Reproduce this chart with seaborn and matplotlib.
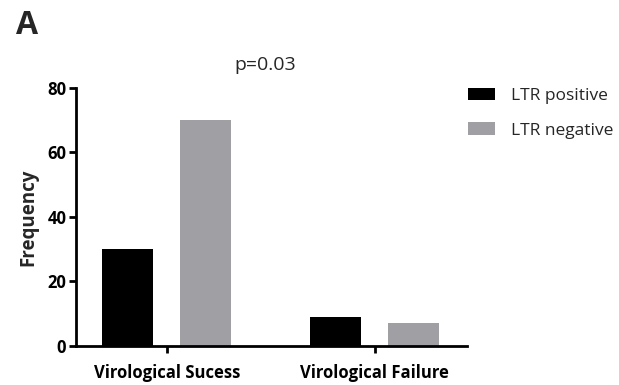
import matplotlib
matplotlib.use("Agg")
import matplotlib.pyplot as plt
import seaborn as sns
import pandas as pd

# Outcome categories and LTR status counts
categories = ["Virological Sucess", "Virological Failure"]
groups = ["LTR positive", "LTR negative"]
ltr_positive = [30, 9]
ltr_negative = [70, 7]
y_ticks = [0, 20, 40, 60, 80]

df = pd.DataFrame({
    "Outcome": categories * 2,
    "Group": [groups[0]] * 2 + [groups[1]] * 2,
    "Frequency": ltr_positive + ltr_negative,
})

sns.set_theme(style="ticks")
plt.rcParams["font.family"] = ["Open Sans", "DejaVu Sans"]

fig = plt.figure(figsize=(6.19, 3.85), dpi=100)
W, H = 619, 385
ax = fig.add_axes([76 / W, 1 - 345.7 / H, (466.7 - 76) / W, (345.7 - 88) / H])

palette = {groups[0]: "#000000", groups[1]: "#a0a0a4"}
sns.barplot(data=df, x="Outcome", y="Frequency", hue="Group", order=categories,
            hue_order=groups, palette=palette, width=0.75, gap=0.34,
            saturation=1, linewidth=0, ax=ax, legend=True)

ax.set_xlim(-0.436, 1.442)
ax.set_ylim(0, 80)
ax.set_yticks(y_ticks)
ax.set_xlabel("")
ax.set_ylabel("Frequency", fontsize=13.5, fontweight="bold", labelpad=6)

for side in ["top", "right"]:
    ax.spines[side].set_visible(False)
for side in ["left", "bottom"]:
    ax.spines[side].set_linewidth(2)
    ax.spines[side].set_color("black")
ax.tick_params(axis="both", width=2, length=5, color="black",
               labelsize=12, labelcolor="black")
for lab in ax.get_xticklabels() + ax.get_yticklabels():
    lab.set_fontweight("bold")
ax.tick_params(axis="y", pad=2)
ax.tick_params(axis="x", pad=8)

handles, labels = ax.get_legend_handles_labels()
ax.legend_.remove()
fig.legend(handles, labels, loc="upper left", bbox_to_anchor=(452 / W, 1 - 72 / H),
           frameon=False, fontsize=12.5, handlelength=1.6, handleheight=0.75,
           handletextpad=0.9, labelspacing=1.05)

fig.text(265 / W, 1 - 65 / H, "p=0.03", fontsize=14, ha="center", va="center")
fig.text(16 / W, 1 - 25 / H, "A", fontsize=23, fontweight="bold", ha="left", va="center")

fig.savefig("out.png", dpi=100)
